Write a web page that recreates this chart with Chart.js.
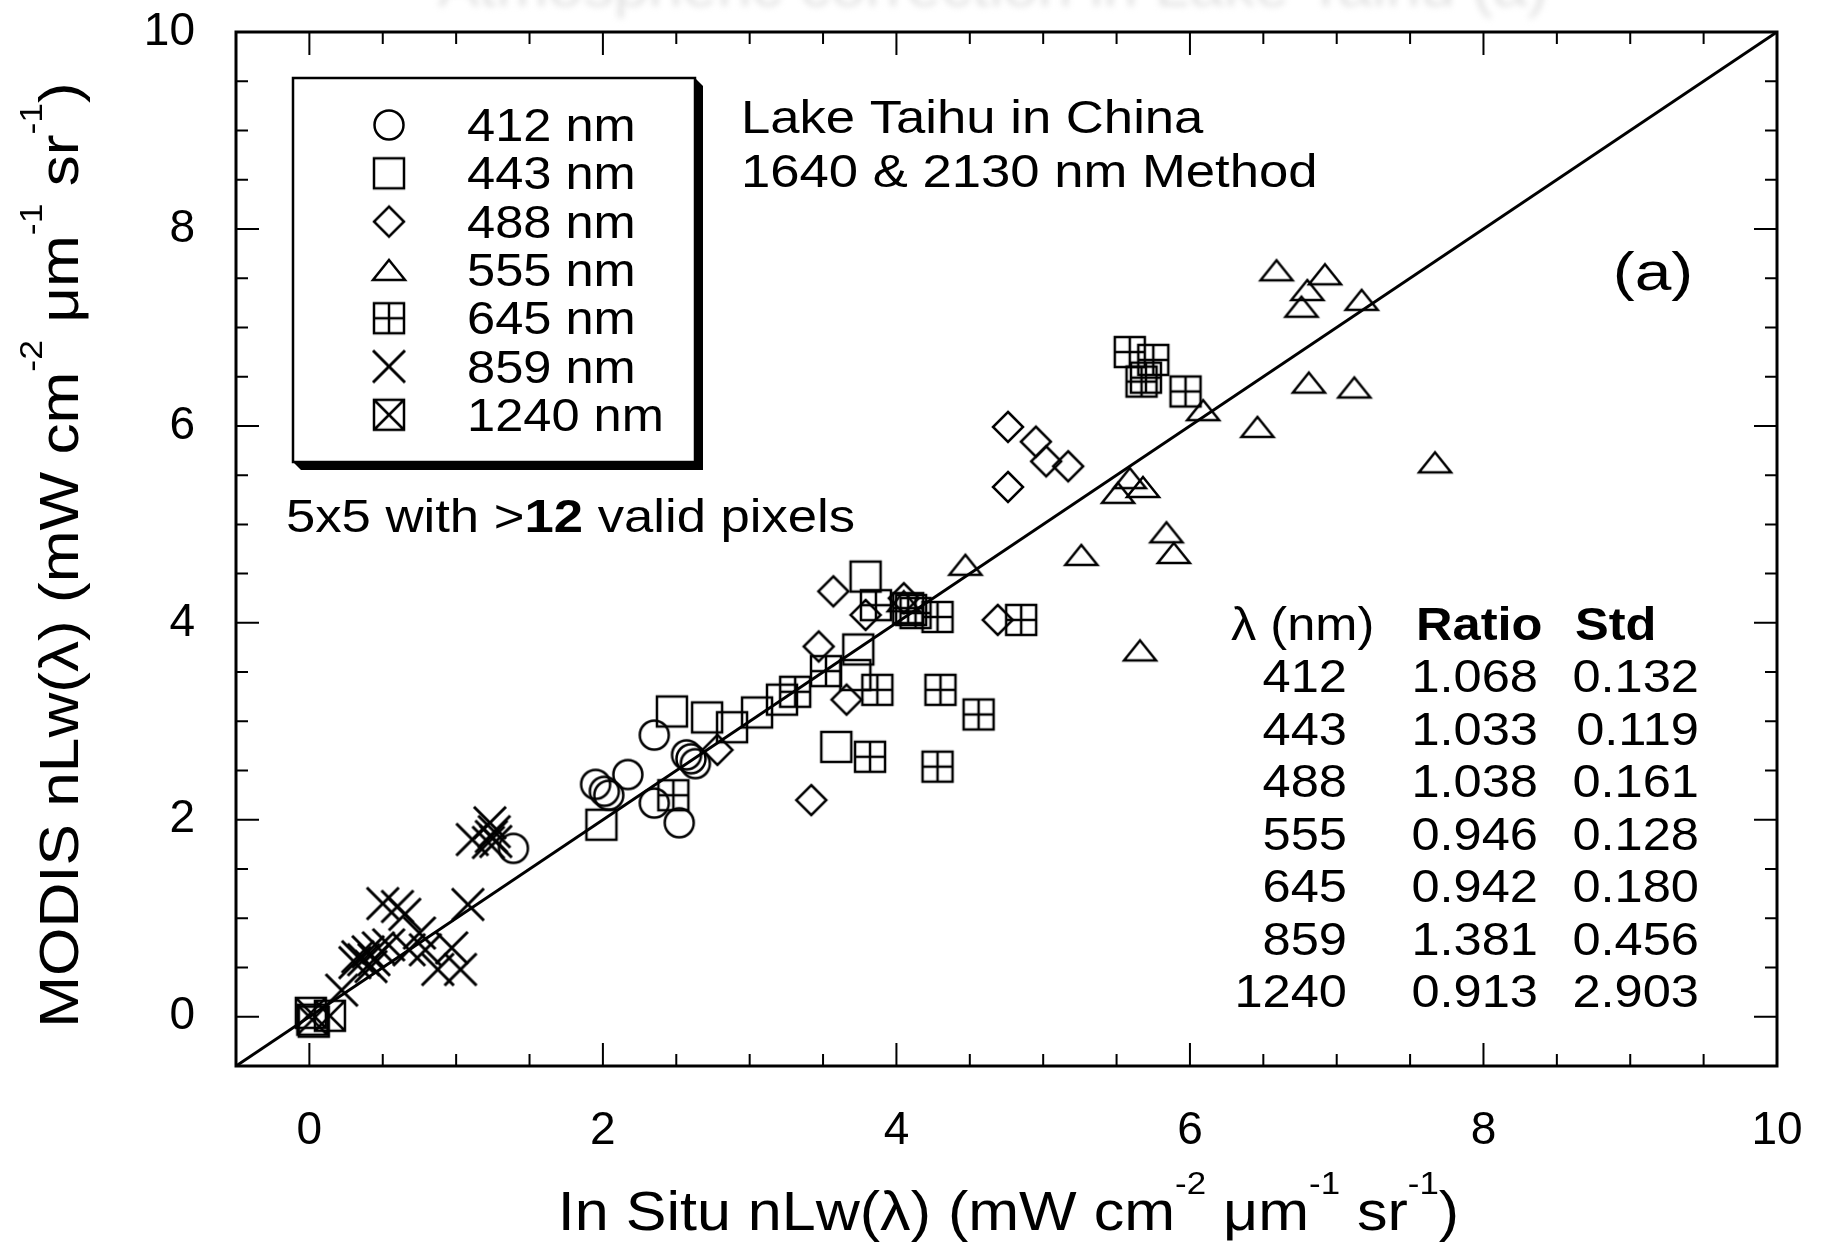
<!DOCTYPE html>
<html lang="en">
<head>
<meta charset="UTF-8">
<title>MODIS vs In Situ nLw - Lake Taihu</title>
<script src="https://cdn.jsdelivr.net/npm/chart.js@4.4.2/dist/chart.umd.min.js"></script>
<style>
    html, body { margin: 0; padding: 0; background: #fff; }
    #wrap { width: 1822px; height: 1246px; }
</style>
</head>
<body>
<div id="wrap"><canvas id="nlwChart" width="1822" height="1246"></canvas></div>
<script>
// --- values: [in situ, MODIS] ---
const bands = ['412', '443', '488', '555', '645', '859', '1240'];

const pts412 = [[1.39, 1.71], [1.95, 2.36], [2.01, 2.29], [2.04, 2.25], [2.17, 2.46], [2.35, 2.86],
    [2.35, 2.17], [2.52, 1.97], [2.57, 2.66], [2.60, 2.62], [2.63, 2.57]];
const pts443 = [[0.03, -0.05], [1.99, 1.95], [2.47, 3.10], [2.71, 3.04], [2.88, 2.94], [3.05, 3.09],
    [3.22, 3.22], [3.59, 2.74], [3.72, 3.47], [3.74, 3.73], [3.79, 4.47], [4.10, 4.13]];
const pts488 = [[2.78, 2.71], [3.42, 2.20], [3.47, 3.76], [3.57, 4.32], [3.66, 3.22], [3.79, 4.08],
    [4.05, 4.25], [4.69, 4.03], [4.76, 5.99], [4.76, 5.38], [4.95, 5.84], [5.02, 5.64], [5.17, 5.59]];
const pts555 = [[4.05, 4.22], [4.47, 4.59], [5.26, 4.69], [5.51, 5.32], [5.59, 5.47], [5.68, 5.38],
    [5.66, 3.72], [5.84, 4.92], [5.89, 4.71], [6.09, 6.16], [6.46, 5.99], [6.59, 7.58], [6.76, 7.21],
    [6.80, 7.38], [6.81, 6.44], [6.92, 7.54], [7.12, 6.39], [7.17, 7.28], [7.67, 5.63]];
const pts645 = [[2.48, 2.25], [3.31, 3.30], [3.52, 3.51], [3.87, 3.32], [3.82, 2.64], [3.86, 4.18],
    [4.08, 4.15], [4.13, 4.10], [4.28, 4.06], [4.30, 3.32], [4.28, 2.54], [4.56, 3.07], [4.85, 4.03],
    [5.59, 6.75], [5.75, 6.67], [5.67, 6.45], [5.70, 6.49], [5.97, 6.35]];
const pts859 = [[0.22, 0.27], [0.31, 0.55], [0.33, 0.61], [0.37, 0.58], [0.40, 0.66], [0.42, 0.51],
    [0.44, 0.58], [0.47, 0.70], [0.54, 0.73], [0.50, 1.15], [0.60, 1.12], [0.65, 1.04], [0.68, 0.68],
    [0.75, 0.85], [0.79, 0.68], [0.875, 0.48], [0.97, 0.70], [1.03, 0.48], [1.08, 1.14], [1.11, 1.80],
    [1.22, 1.77], [1.23, 1.97], [1.24, 1.83], [1.26, 1.88], [1.27, 1.78]];
const pts1240 = [[0.01, 0.04], [0.02, -0.03], [0.14, 0.01]];

// statistics table
const tableRatio = ['1.068', '1.033', '1.038', '0.946', '0.942', '1.381', '0.913'];
const tableStd = ['0.132', '0.119', '0.161', '0.128', '0.180', '0.456', '2.903'];

// axes
const xTicks = [0, 2, 4, 6, 8, 10];
const yTicks = [0, 2, 4, 6, 8, 10];
const axisMin = -0.5;
const axisMax = 10;
const oneToOne = [-0.5, 10];

// --- styling ---
const FONT = '"Liberation Sans", Arial, Helvetica, sans-serif';
const SX = 1.1; // the original lettering is a touch wider than Liberation Sans

// hollow marker glyphs, drawn once and handed to Chart.js as point styles
function makeSymbol(kind) {
    const s = 40, m = 20, h = 15;
    const c = document.createElement('canvas');
    c.width = s; c.height = s;
    const g = c.getContext('2d');
    g.strokeStyle = '#000';
    g.lineWidth = 2.5;
    g.beginPath();
    if (kind === 'circle') {
        g.arc(m, m, 14.5, 0, Math.PI * 2);
    } else if (kind === 'square' || kind === 'boxplus' || kind === 'boxcross') {
        g.rect(m - h, m - h, 2 * h, 2 * h);
        if (kind === 'boxplus') {
            g.moveTo(m, m - h); g.lineTo(m, m + h);
            g.moveTo(m - h, m); g.lineTo(m + h, m);
        }
        if (kind === 'boxcross') {
            g.moveTo(m - h, m - h); g.lineTo(m + h, m + h);
            g.moveTo(m + h, m - h); g.lineTo(m - h, m + h);
        }
    } else if (kind === 'diamond') {
        g.moveTo(m, m - h); g.lineTo(m + h, m); g.lineTo(m, m + h); g.lineTo(m - h, m); g.closePath();
    } else if (kind === 'triangle') {
        g.moveTo(m, m - 10); g.lineTo(m + 16, m + 10); g.lineTo(m - 16, m + 10); g.closePath();
    } else if (kind === 'cross') {
        g.lineWidth = 3;
        g.moveTo(m - 16, m - 16); g.lineTo(m + 16, m + 16);
        g.moveTo(m + 16, m - 16); g.lineTo(m - 16, m + 16);
    }
    g.stroke();
    return c;
}

const symbolKinds = ['circle', 'square', 'diamond', 'triangle', 'boxplus', 'cross', 'boxcross'];
const symbols = symbolKinds.map(makeSymbol);
const series = [pts412, pts443, pts488, pts555, pts645, pts859, pts1240];

// text helper with horizontal stretch; returns drawn width
function textWidth(ctx, str, font, sx) {
    ctx.save();
    ctx.font = font;
    const w = ctx.measureText(str).width * sx;
    ctx.restore();
    return w;
}

function drawText(ctx, str, x, y, font, align, sx) {
    const w = textWidth(ctx, str, font, sx);
    let left = x;
    if (align === 'right') left = x - w;
    if (align === 'center') left = x - w / 2;
    ctx.save();
    ctx.font = font;
    ctx.fillStyle = '#000';
    ctx.textAlign = 'left';
    ctx.textBaseline = 'alphabetic';
    ctx.translate(left, y);
    ctx.scale(sx, 1);
    ctx.fillText(str, 0, 0);
    ctx.restore();
    return w;
}

// axis title with superscript exponents, centred on (0,0) of the current transform
function drawUnitsTitle(ctx, lead, size, sx) {
    const main = size + 'px ' + FONT;
    const sup = Math.round(size * 0.57) + 'px ' + FONT;
    const rise = Math.round(size * 0.64);
    const runs = [[lead + ' (mW cm', 0], ['-2', 1], [' \u03bcm', 0], ['-1', 1], [' sr', 0], ['-1', 1], [')', 0]];
    let total = 0;
    runs.forEach(([t, s]) => { total += textWidth(ctx, t, s ? sup : main, sx); });
    let x = -total / 2;
    runs.forEach(([t, s]) => {
        x += drawText(ctx, t, x, s ? -rise : 0, s ? sup : main, 'left', sx);
    });
}

const decorPlugin = {
    id: 'decor',
    beforeDraw(chart) {
        const ctx = chart.ctx;
        ctx.save();
        ctx.fillStyle = '#fff';
        ctx.fillRect(0, 0, chart.width, chart.height);
        // faint, cut-off heading left over at the top of the page
        ctx.filter = 'blur(3px)';
        ctx.font = '56px ' + FONT;
        ctx.fillStyle = '#e2e2e2';
        ctx.textAlign = 'center';
        const ghost = 'Atmospheric correction in Lake Taihu (a)';
        const gw = ctx.measureText(ghost).width;
        ctx.translate(993, 6);
        ctx.scale(1110 / gw, 1);
        ctx.fillText(ghost, 0, 0);
        ctx.restore();
    },
    afterDraw(chart) {
        const ctx = chart.ctx;
        const { left, right, top, bottom } = chart.chartArea;
        const xs = chart.scales.x, ys = chart.scales.y;

        // frame
        ctx.save();
        ctx.strokeStyle = '#000';
        ctx.lineWidth = 3;
        ctx.strokeRect(left, top, right - left, bottom - top);

        // inward ticks on all four sides, minor every 0.5
        ctx.lineWidth = 2;
        ctx.beginPath();
        for (let v = axisMin + 0.5; v < axisMax - 0.01; v += 0.5) {
            const len = Math.abs(v % 2) < 1e-6 ? 23 : 12;
            const px = xs.getPixelForValue(v);
            const py = ys.getPixelForValue(v);
            ctx.moveTo(px, bottom); ctx.lineTo(px, bottom - len);
            ctx.moveTo(px, top); ctx.lineTo(px, top + len);
            ctx.moveTo(left, py); ctx.lineTo(left + len, py);
            ctx.moveTo(right, py); ctx.lineTo(right - len, py);
        }
        ctx.stroke();

        // legend box with drop shadow
        const L = 293, T = 78, R = 695, B = 462, sh = 8;
        ctx.fillStyle = '#000';
        ctx.beginPath();
        ctx.moveTo(R, T); ctx.lineTo(R + sh, T + sh); ctx.lineTo(R + sh, B + sh);
        ctx.lineTo(L + sh, B + sh); ctx.lineTo(L, B); ctx.closePath();
        ctx.fill();
        ctx.fillStyle = '#fff';
        ctx.fillRect(L, T, R - L, B - T);
        ctx.lineWidth = 2.5;
        ctx.strokeRect(L, T, R - L, B - T);
        ctx.restore();

        const f46 = '46px ' + FONT;
        bands.forEach((b, i) => {
            const cy = 125 + i * 48.3;
            ctx.drawImage(symbols[i], 389 - 20, cy - 20);
            drawText(ctx, b + ' nm', 467, cy + 16, f46, 'left', SX);
        });

        // annotations
        const f47 = '47px ' + FONT;
        drawText(ctx, 'Lake Taihu in China', 741, 133, f47, 'left', 1.12);
        drawText(ctx, '1640 & 2130 nm Method', 741, 187, f47, 'left', 1.12);
        drawText(ctx, '(a)', 1653, 290, '54px ' + FONT, 'center', 1.22);
        let x = 286;
        x += drawText(ctx, '5x5 with >', x, 532, f47, 'left', 1.12);
        x += drawText(ctx, '12', x, 532, 'bold ' + f47, 'left', 1.12);
        drawText(ctx, ' valid pixels', x, 532, f47, 'left', 1.12);

        // statistics table
        const hy = 640;
        drawText(ctx, '\u03bb (nm)', 1231, hy, f46, 'left', SX);
        drawText(ctx, 'Ratio', 1416, hy, 'bold ' + f46, 'left', SX);
        drawText(ctx, 'Std', 1575, hy, 'bold ' + f46, 'left', SX);
        bands.forEach((b, i) => {
            const by = 692 + i * 52.5;
            drawText(ctx, b, 1347, by, f46, 'right', SX);
            drawText(ctx, tableRatio[i], 1538, by, f46, 'right', SX);
            drawText(ctx, tableStd[i], 1699, by, f46, 'right', SX);
        });

        // axis titles
        ctx.save();
        ctx.translate((left + right) / 2 + 2, 1230);
        drawUnitsTitle(ctx, 'In Situ nLw(\u03bb)', 56, 1.09);
        ctx.restore();

        ctx.save();
        ctx.translate(78, 555);
        ctx.rotate(-Math.PI / 2);
        drawUnitsTitle(ctx, 'MODIS nLw(\u03bb)', 56, 1.11);
        ctx.restore();
    }
};

// --- chart ---
const datasets = [{
    label: '1:1',
    data: oneToOne.map(v => ({ x: v, y: v })),
    showLine: true,
    borderColor: '#000',
    borderWidth: 3,
    pointRadius: 0,
    fill: false
}];
bands.forEach((b, i) => {
    datasets.push({
        label: b + ' nm',
        data: series[i].map(([x, y]) => ({ x, y })),
        pointStyle: symbols[i],
        pointRadius: 16,
        showLine: false
    });
});

Chart.defaults.font.family = FONT;
Chart.defaults.color = '#000';

// keep the plot frame exactly where the original has it
function noScalePadding(s) {
    s.paddingTop = 0; s.paddingBottom = 0;
    s.paddingLeft = 0; s.paddingRight = 0;
}

new Chart(document.getElementById('nlwChart'), {
    type: 'scatter',
    data: { datasets },
    options: {
        responsive: false,
        devicePixelRatio: 1,
        animation: false,
        layout: { padding: { left: 0, right: 45, top: 32, bottom: 0 } },
        plugins: {
            legend: { display: false },
            tooltip: { enabled: false }
        },
        scales: {
            x: {
                type: 'linear',
                min: axisMin,
                max: axisMax,
                afterBuildTicks: s => { s.ticks = xTicks.map(v => ({ value: v })); },
                afterFit: s => { s.height = 180; noScalePadding(s); },
                grid: { display: false, drawTicks: false },
                border: { display: false },
                ticks: { padding: 38, autoSkip: false, maxRotation: 0, color: '#000', font: { size: 46 } }
            },
            y: {
                type: 'linear',
                min: axisMin,
                max: axisMax,
                afterBuildTicks: s => { s.ticks = yTicks.map(v => ({ value: v })); },
                afterFit: s => { s.width = 236; noScalePadding(s); },
                grid: { display: false, drawTicks: false },
                border: { display: false },
                ticks: { padding: 41, autoSkip: false, color: '#000', font: { size: 46 } }
            }
        }
    },
    plugins: [decorPlugin]
});
</script>
</body>
</html>
